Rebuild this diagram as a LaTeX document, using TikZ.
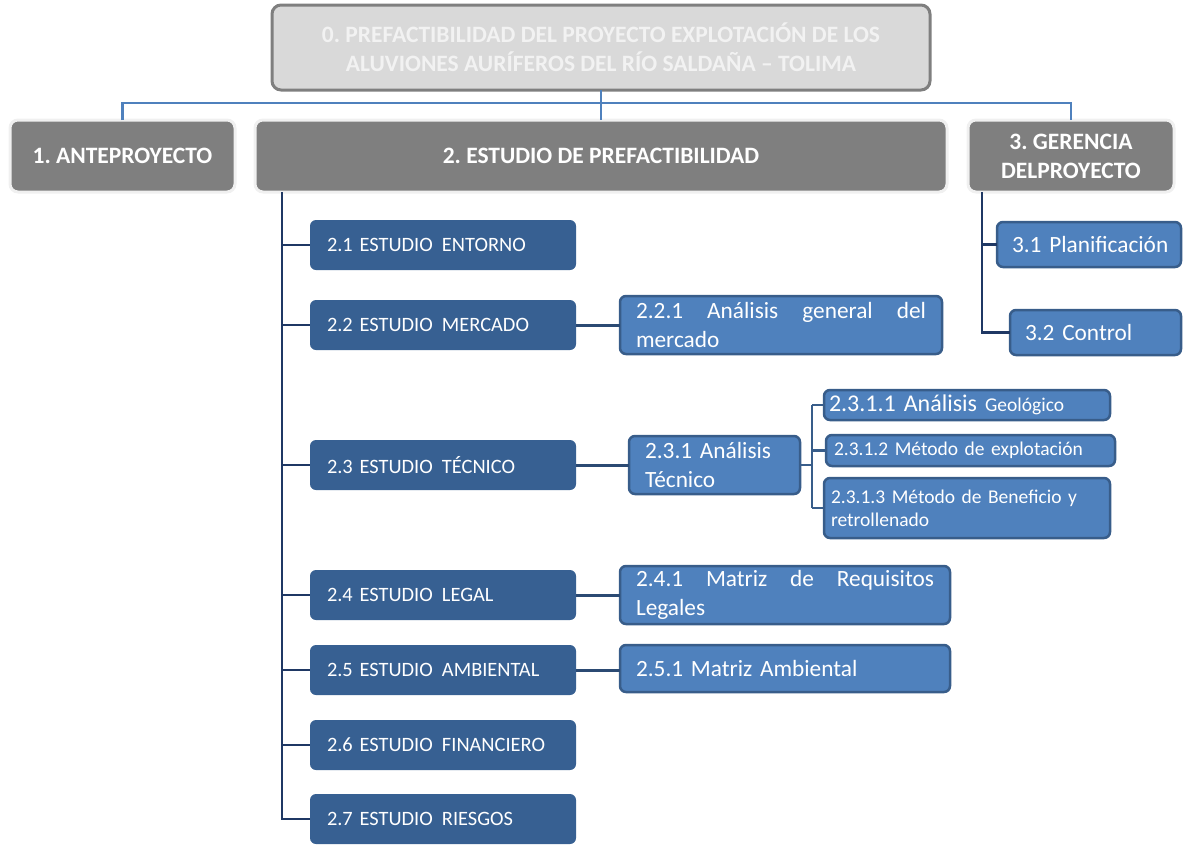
\documentclass[tikz,border=0pt]{standalone}
\usepackage{fontspec}
\setmainfont{Carlito}
\hyphenpenalty=10000
\exhyphenpenalty=10000
\frenchspacing
\hbadness=10000
\hfuzz=100pt
\newcommand{\gapsp}{\hspace{0.45em}}
\begin{document}
\begin{tikzpicture}[x=1pt,y=-1pt,
  every node/.style={inner sep=0pt, outer sep=0pt},
  topbox/.style={rectangle, rounded corners=9pt, fill=titlefill, draw=titleline, line width=3pt, text=titletext, font=\bfseries\fontsize{23.5}{29}\selectfont, align=center},
  lvlbox/.style={rectangle, rounded corners=8pt, fill=lvlfill, draw=lvlline, line width=3pt, text=white, font=\bfseries\fontsize{23.5}{29}\selectfont, align=center},
  studybox/.style={rectangle, rounded corners=6pt, fill=studyfill, text=white, minimum width=266pt, minimum height=50pt, text width=232pt, align=left, font=\fontsize{20.4}{24}\selectfont},
  subbox/.style={rectangle, rounded corners=6pt, fill=subfill, draw=subline, line width=2.5pt, text=white, font=\fontsize{23.3}{29}\selectfont},
  bus/.style={draw=busblue, line width=2.5pt},
  trunk/.style={draw=navy, line width=2.2pt},
  link/.style={draw=linkcol, line width=3pt},
  sublink/.style={draw=subline, line width=2.5pt}
]
\definecolor{titlefill}{HTML}{D9D9D9}
\definecolor{titleline}{HTML}{7F7F7F}
\definecolor{titletext}{HTML}{F2F2F2}
\definecolor{lvlfill}{HTML}{7F7F7F}
\definecolor{lvlline}{HTML}{F0F0F0}
\definecolor{studyfill}{HTML}{376092}
\definecolor{subfill}{HTML}{4F81BD}
\definecolor{subline}{HTML}{385D8A}
\definecolor{busblue}{HTML}{4F81BD}
\definecolor{navy}{HTML}{1F3864}
\definecolor{linkcol}{HTML}{2B4A73}
\useasboundingbox (0,0) rectangle (1191,844);

% top
\node[topbox, minimum width=658pt, minimum height=85pt] (t) at (601,47.5)
  {0. PREFACTIBILIDAD DEL PROYECTO EXPLOTACIÓN DE LOS\\ALUVIONES AURÍFEROS DEL RÍO SALDAÑA – TOLIMA};

% level 1
\node[lvlbox, minimum width=225pt, minimum height=72pt] (b1) at (122.5,156) {1. ANTEPROYECTO};
\node[lvlbox, minimum width=692pt, minimum height=72pt] (b2) at (601,156) {2. ESTUDIO DE PREFACTIBILIDAD};
\node[lvlbox, minimum width=206pt, minimum height=72pt] (b3) at (1071,156) {3. GERENCIA\\DELPROYECTO};

\coordinate (busy) at (600,103);
\draw[bus] (t.south) -- (b2.north);
\draw[bus] (b1.north) -- (b1.north |- busy) -- (b3.north |- busy) -- (b3.north);

% studies
\node[studybox, anchor=west] (s21) at (310,245) {2.1 ESTUDIO\gapsp ENTORNO};
\node[studybox, anchor=west] (s22) at (310,325) {2.2 ESTUDIO\gapsp MERCADO};
\node[studybox, anchor=west] (s23) at (310,465) {2.3 ESTUDIO\gapsp TÉCNICO};
\node[studybox, anchor=west] (s24) at (310,595) {2.4 ESTUDIO\gapsp LEGAL};
\node[studybox, anchor=west] (s25) at (310,670) {2.5 ESTUDIO\gapsp AMBIENTAL};
\node[studybox, anchor=west] (s26) at (310,745) {2.6 ESTUDIO\gapsp FINANCIERO};
\node[studybox, anchor=west] (s27) at (310,819) {2.7 ESTUDIO\gapsp RIESGOS};

\coordinate (tk) at (282,192);
\draw[trunk] (tk) |- (s27.west);
\foreach \s in {s21,s22,s23,s24,s25,s26}{\draw[trunk] (tk |- \s.west) -- (\s.west);}

% sub boxes
\node[subbox, minimum width=322pt, minimum height=58pt, text width=290pt, align=justify] (s221) at (781,325)
  {2.2.1 Análisis general del mercado};
\node[subbox, minimum width=171pt, minimum height=58pt, text width=139pt, align=left] (s231) at (714.5,465)
  {2.3.1 Análisis\\Técnico};
\node[subbox, minimum width=330pt, minimum height=58pt, text width=298pt, align=justify] (s241) at (785,595)
  {2.4.1 Matriz de Requisitos Legales};
\node[subbox, minimum width=330pt, minimum height=47pt, text width=298pt, align=left] (s251) at (785,668.5)
  {2.5.1 Matriz Ambiental};

\draw[link] (s22.east) -- (s22.east -| s221.west);
\draw[link] (s23.east) -- (s23.east -| s231.west);
\draw[link] (s24.east) -- (s24.east -| s241.west);
\draw[link] (s25.east) -- (s25.east -| s251.west);

\node[subbox, minimum width=286pt, minimum height=30pt, text width=276pt, align=left, font=\fontsize{24}{28}\selectfont] (s2311) at (967,405)
  {2.3.1.1 Análisis {\fontsize{19.5}{22}\selectfont Geológico}};
\node[subbox, minimum width=289pt, minimum height=31pt, text width=273pt, align=left, font=\fontsize{19.5}{23}\selectfont] (s2312) at (970.5,450.5)
  {2.3.1.2 Método de explotación};
\node[subbox, minimum width=286pt, minimum height=60pt, text width=272pt, align=left, font=\fontsize{19.5}{23}\selectfont] (s2313) at (967,508)
  {2.3.1.3 Método de Beneficio y\\retrollenado};

\coordinate (j) at (812,465);
\draw[sublink] (s231.east) -- (j);
\draw[sublink] (j |- s2311.west) -- (j |- s2313.west);
\foreach \s in {s2311,s2312,s2313}{\draw[sublink] (j |- \s.west) -- (\s.west);}

% gerencia
\node[subbox, minimum width=184pt, minimum height=45pt, text width=154pt, align=left] (g31) at (1089,244.5) {\mbox{3.1 Planificación}};
\node[subbox, minimum width=171pt, minimum height=45pt, text width=141pt, align=left] (g32) at (1095.5,332.5) {3.2 Control};
\coordinate (tk3) at (982,192);
\draw[trunk] (tk3) |- (g32.west);
\draw[trunk] (tk3 |- g31.west) -- (g31.west);
\end{tikzpicture}
\end{document}
